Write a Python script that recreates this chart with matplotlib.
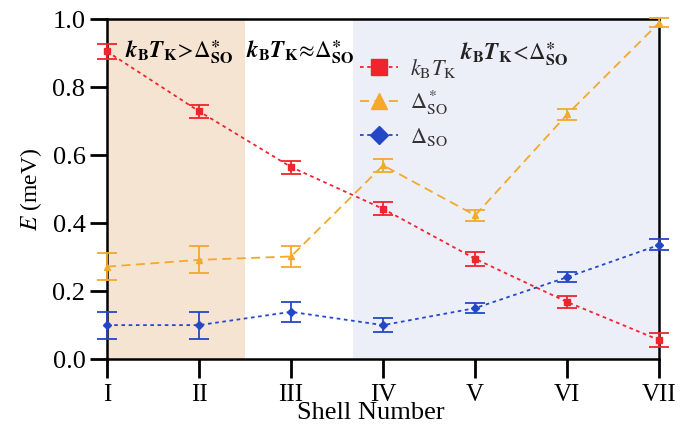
import matplotlib
matplotlib.use("Agg")
import matplotlib.pyplot as plt

plt.rcParams['font.family'] = ['Liberation Serif', 'DejaVu Serif']
plt.rcParams['mathtext.fontset'] = 'stix'

shells = ['I', 'II', 'III', 'IV', 'V', 'VI', 'VII']

kbtk = [0.905, 0.729, 0.565, 0.442, 0.295, 0.168, 0.056]
kbtk_err = [0.021, 0.019, 0.019, 0.019, 0.02, 0.019, 0.021]

dso_star = [0.272, 0.292, 0.302, 0.57, 0.423, 0.72, 0.99]
dso_star_err = [0.04, 0.04, 0.03, 0.02, 0.017, 0.017, 0.014]

dso = [0.1, 0.1, 0.139, 0.1, 0.15, 0.241, 0.336]
dso_err = [0.04, 0.04, 0.03, 0.02, 0.015, 0.015, 0.016]

red = '#f0242c'
orange = '#f2a92c'
blue = '#2447c8'

fig = plt.figure(figsize=(6.86, 4.26), dpi=100)
ax = fig.add_axes([0.156, 0.157, 0.805, 0.798])

x = list(range(len(shells)))

ax.axvspan(0, 1.5, color='#f6e4d3', lw=0, zorder=0)
ax.axvspan(2.67, 6, color='#eceef8', lw=0, zorder=0)

series = [
    (kbtk, kbtk_err, red, (0, (2, 2)), 's', 5, r'$k_\mathrm{B}T_\mathrm{K}$'),
    (dso_star, dso_star_err, orange, (0, (5, 3)), '^', 5, r'$\Delta^*_\mathrm{SO}$'),
    (dso, dso_err, blue, (0, (2, 2)), 'D', 4, r'$\Delta_\mathrm{SO}$'),
]
for vals, err, col, ls, mk, ms, lab in series:
    cont = ax.errorbar(x, vals, yerr=err, color=col, ls=ls, lw=1.3,
                       marker=mk, ms=ms, capsize=7, elinewidth=1.3, capthick=1.3,
                       label=lab, zorder=3)
    for art in cont.get_children():
        art.set_clip_on(False)

ax.set_xlim(0, 6)
ax.set_ylim(0, 1.0)
ax.set_xticks(x)
ax.set_xticklabels(shells)
ax.set_yticks([0.0, 0.2, 0.4, 0.6, 0.8, 1.0])
ax.set_yticklabels(['0.0', '0.2', '0.4', '0.6', '0.8', '1.0'])
ax.tick_params(axis='y', direction='out', length=12, width=2, labelsize=19)
ax.tick_params(axis='x', direction='out', length=14, width=2, labelsize=18, pad=4)
for s in ax.spines.values():
    s.set_linewidth(1.8)

ax.set_xlabel('Shell Number', fontsize=19)
ax.xaxis.set_label_coords(0.478, -0.125)
ax.set_ylabel(r'$E$ (meV)', fontsize=17, labelpad=6)

hl, lb = ax.get_legend_handles_labels()
hl = [h[0] for h in hl]
leg = ax.legend(hl, lb, loc='upper left', bbox_to_anchor=(0.442, 0.915), frameon=False,
                fontsize=16, handlelength=1.7, handletextpad=0.54, labelspacing=0.4,
                markerscale=2.2, borderaxespad=0)
for t in leg.get_texts():
    t.set_color('#333333')

star = r'\boldsymbol{\ast}'
ax.text(0.2, 0.905, r'$\boldsymbol{k}_\mathbf{B}\boldsymbol{T}_\mathbf{K}\!>\!\Delta^{' + star + r'}_\mathbf{SO}$',
        fontsize=16.5, va='center', ha='left')
ax.text(1.51, 0.905, r'$\boldsymbol{k}_\mathbf{B}\boldsymbol{T}_\mathbf{K}\!\approx\!\Delta^{' + star + r'}_\mathbf{SO}$',
        fontsize=16.5, va='center', ha='left')
ax.text(3.83, 0.9, r'$\boldsymbol{k}_\mathbf{B}\boldsymbol{T}_\mathbf{K}\!<\!\Delta^{' + star + r'}_\mathbf{SO}$',
        fontsize=16.5, va='center', ha='left', color='#222222')

fig.savefig('out.png', dpi=100)
